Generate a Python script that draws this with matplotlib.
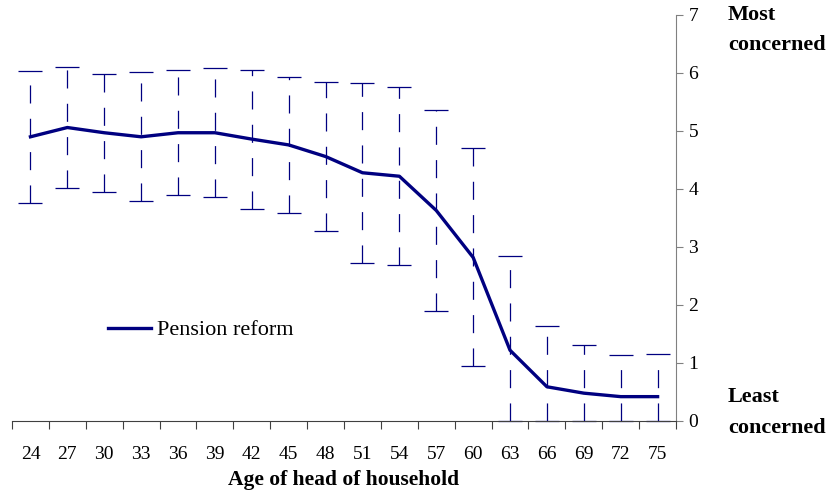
import matplotlib.pyplot as plt
import numpy as np

plt.rcParams['font.family'] = ['Liberation Serif', 'DejaVu Serif']
plt.rcParams['lines.scale_dashes'] = False

# age groups and mean concern score with its standard deviation
ages = [24, 27, 30, 33, 36, 39, 42, 45, 48, 51, 54, 57, 60, 63, 66, 69, 72, 75]
mean = [4.90, 5.06, 4.97, 4.90, 4.97, 4.97, 4.86, 4.76, 4.56, 4.28, 4.22, 3.63,
        2.82, 1.22, 0.59, 0.48, 0.42, 0.42]
sd = [1.14, 1.05, 1.02, 1.11, 1.08, 1.11, 1.20, 1.17, 1.29, 1.55, 1.53, 1.74,
      1.88, 1.62, 1.05, 0.83, 0.71, 0.74]

navy = '#000080'
x = np.arange(len(ages))
m = np.array(mean)
s = np.array(sd)
lo = m - np.clip(m - s, 0, None)   # lower bars stop at the axis
hi = s

fig = plt.figure(figsize=(8.34, 4.95), dpi=100)
ax = fig.add_axes([0.0144, 0.1495, 0.7962, 0.8202])

eb = ax.errorbar(x, mean, yerr=[lo, hi], fmt='none', ecolor=navy,
                 elinewidth=0.9, capsize=8.5, capthick=0.9, zorder=2)
eb[2][0].set_linestyle((0, (13, 11)))
for cap in eb[1]:
    cap.set_clip_on(False)
ax.plot(x, mean, color=navy, lw=2.4, label='Pension reform', zorder=3)

ax.set_xlim(-0.5, len(ages) - 0.5)
ax.set_ylim(0, 7)

# y axis on the right
ax.spines['left'].set_visible(False)
ax.spines['top'].set_visible(False)
ax.spines['right'].set_color('#808080')
ax.spines['bottom'].set_color('#404040')
ax.yaxis.tick_right()
ax.set_yticks(range(8))
ax.tick_params(axis='y', length=5, width=0.8, color='#808080', labelsize=14, pad=4)

# category labels centred, tick marks between categories
ax.set_xticks(x)
ax.set_xticklabels([str(a) for a in ages])
ax.set_xticks(np.arange(-0.5, len(ages)), minor=True)
ax.tick_params(axis='x', which='major', length=0, labelsize=14, pad=18)
ax.tick_params(axis='x', which='minor', length=6, width=0.8, color='#404040')
ax.set_xlabel('Age of head of household', fontsize=15.5, fontweight='bold', labelpad=5)

ax.text(1.078, 0.963, 'Most\nconcerned', transform=ax.transAxes, fontsize=16,
        fontweight='bold', va='center', ha='left', linespacing=1.7)
ax.text(1.078, 0.021, 'Least\nconcerned', transform=ax.transAxes, fontsize=16,
        fontweight='bold', va='center', ha='left', linespacing=1.7)

ax.legend(loc='center left', bbox_to_anchor=(0.115, 0.224), frameon=False,
          fontsize=16, handlelength=1.9, handletextpad=0.3)

fig.savefig('out.png', dpi=100)
